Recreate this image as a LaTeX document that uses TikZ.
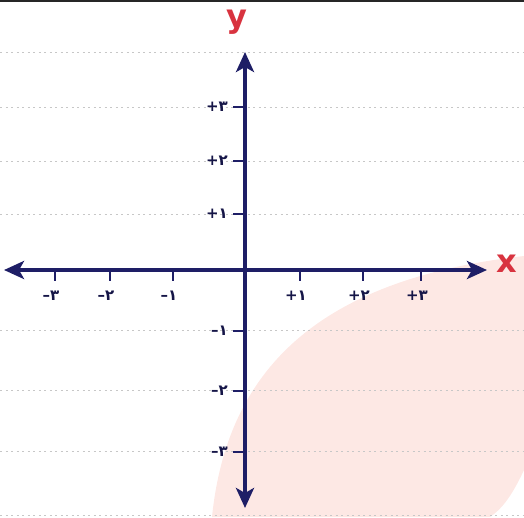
\documentclass[tikz,border=0pt]{standalone}
\usepackage{fontspec}
\usepackage{tikz}
\usetikzlibrary{arrows.meta}
\newfontfamily\farsi{DejaVu Sans}
\definecolor{axisblue}{HTML}{1E1E66}
\definecolor{labelred}{HTML}{D8333F}
\definecolor{blushpink}{HTML}{FDE8E4}

\begin{document}
\begin{tikzpicture}[x=1pt,y=-1pt,
              axis/.style={draw=axisblue,line width=4pt,-{Stealth[length=20pt,width=18pt,inset=5pt]}},
              tickmark/.style={draw=axisblue,line width=1.8pt},
              ticklabel/.style={text=axisblue!70!black,font=\farsi\bfseries\fontsize{15}{15}\selectfont,inner sep=1pt},
              axislabel/.style={text=labelred,font=\farsi\bfseries\fontsize{32}{32}\selectfont,inner sep=0pt},
              ruled/.style={draw=black!22,line width=0.9pt,dash pattern=on 2pt off 3.5pt}]
  \useasboundingbox (0,0) rectangle (524,517);
  % paper
  \fill[blushpink] (212,517) .. controls (228,360) and (330,278) .. (524,256)
    -- (524,470) .. controls (510,500) and (500,510) .. (490,517) -- cycle;
  \draw[black!85,line width=1.6pt] (0,1) -- (524,1);
  \foreach \ly in {52,107,161,214,330,390,451,515}
    \draw[ruled] (0,\ly) -- (524,\ly);

  % axes
  \coordinate (O) at (245,270);
  \coordinate (Xl) at (487,270);
  \coordinate (Xr) at (4,270);
  \coordinate (Yt) at (245,52);
  \coordinate (Yb) at (245,508);
  \draw[axis] (O) -- (Xl);
  \draw[axis] (O) -- (Xr);
  \draw[axis] (O) -- (Yt);
  \draw[axis] (O) -- (Yb);
  \node[axislabel] (X) at (507,264) {x};
  \node[axislabel] (Y) at (237,22) {y};

  % ticks on x
  \foreach \tx/\tl [count=\i] in {55/–۳,110/–۲,173/–۱,300/+۱,363/+۲,421/+۳} {
    \coordinate (xt\i) at (\tx,270);
    \draw[tickmark] (xt\i) -- ++(0,11);
    \node[ticklabel] (xl\i) at (\tx-4,296) {\tl};
  }
  % ticks on y
  \foreach \ty/\tl [count=\i] in {107/+۳,161/+۲,214/+۱,331/–۱,391/–۲,452/–۳} {
    \coordinate (yt\i) at (245,\ty);
    \draw[tickmark] (yt\i) -- ++(-12,0);
    \node[ticklabel,anchor=east] (yl\i) at (229,\ty) {\tl};
  }
\end{tikzpicture}
\end{document}
